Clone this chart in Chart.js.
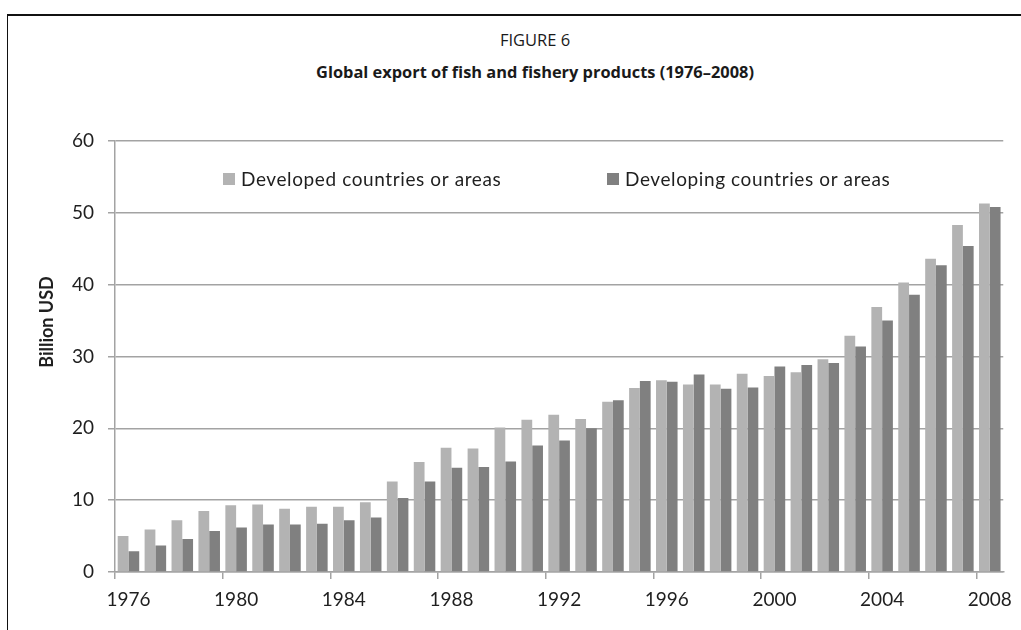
<!DOCTYPE html>
<html>
<head>
<meta charset="utf-8">
<title>Global export of fish and fishery products</title>
<script src="https://cdn.jsdelivr.net/npm/chart.js@4/dist/chart.umd.min.js"></script>
<style>
    html, body { margin: 0; padding: 0; background: #fff; }
    #wrap { position: relative; width: 1021px; height: 630px; overflow: hidden; }
    #frame {
        position: absolute; left: 7px; top: 14px; right: -10px; bottom: -10px;
        border-top: 2px solid #111; border-left: 1.5px solid #111;
    }
    .head {
        position: absolute; left: 235px; width: 600px; text-align: center;
        color: #1a1a1a; font-family: "Open Sans", sans-serif; white-space: nowrap;
    }
    #fig { top: 28px; font-size: 16.5px; }
    #ttl { top: 60px; font-size: 16.4px; font-weight: bold; }
    canvas { position: absolute; left: 0; top: 0; }
</style>
</head>
<body>
<div id="wrap">
    <div id="frame"></div>
    <div class="head" id="fig">FIGURE 6</div>
    <div class="head" id="ttl">Global export of fish and fishery products (1976–2008)</div>
    <canvas id="chart" width="1021" height="630"></canvas>
</div>
<script>
// Export value, billion USD
const years = ['1976', '1977', '1978', '1979', '1980', '1981', '1982', '1983', '1984', '1985',
               '1986', '1987', '1988', '1989', '1990', '1991', '1992', '1993', '1994', '1995',
               '1996', '1997', '1998', '1999', '2000', '2001', '2002', '2003', '2004', '2005',
               '2006', '2007', '2008'];
const developed = [5.0, 5.9, 7.2, 8.5, 9.3, 9.4, 8.8, 9.1, 9.1, 9.7,
                   12.6, 15.3, 17.3, 17.2, 20.1, 21.2, 21.9, 21.3, 23.7, 25.6,
                   26.7, 26.1, 26.1, 27.6, 27.3, 27.8, 29.6, 32.9, 36.9, 40.3,
                   43.6, 48.3, 51.3];
const developing = [2.9, 3.7, 4.6, 5.7, 6.2, 6.6, 6.6, 6.7, 7.2, 7.6,
                    10.3, 12.6, 14.5, 14.6, 15.4, 17.6, 18.3, 20.0, 23.9, 26.6,
                    26.5, 27.5, 25.5, 25.7, 28.6, 28.8, 29.1, 31.4, 35.0, 38.6,
                    42.7, 45.4, 50.8];
const seriesNames = ['Developed countries or areas', 'Developing countries or areas'];
const yTicks = [0, 10, 20, 30, 40, 50, 60];
const labelEvery = 4;

const axisGray = '#a3a3a3';
const textColor = '#1f1f1f';
const tickFont = { family: 'Lato', size: 19 };

// legend sitting inside the plot, plus the rotated y axis caption
const overlay = {
    id: 'overlay',
    afterDraw(chart) {
        const ctx = chart.ctx;
        ctx.save();
        ctx.font = '19px Lato';
        ctx.letterSpacing = '0.6px';
        ctx.textBaseline = 'middle';
        const legendX = [223, 607];
        chart.data.datasets.forEach((ds, i) => {
            ctx.fillStyle = ds.backgroundColor;
            ctx.fillRect(legendX[i], 173, 12, 12);
            ctx.fillStyle = textColor;
            ctx.fillText(ds.label, legendX[i] + 18, 180);
        });
        ctx.letterSpacing = '0px';
        ctx.translate(47, 322);
        ctx.rotate(-Math.PI / 2);
        ctx.font = 'bold 18px Lato';
        ctx.textAlign = 'center';
        ctx.fillText('Billion USD', 0, 0);
        ctx.restore();
    }
};

new Chart(document.getElementById('chart'), {
    type: 'bar',
    data: {
        labels: years,
        datasets: [
            { label: seriesNames[0], data: developed, backgroundColor: '#b3b3b3' },
            { label: seriesNames[1], data: developing, backgroundColor: '#808080' }
        ]
    },
    options: {
        responsive: false,
        animation: false,
        layout: { padding: { top: 141, right: 11, left: 0, bottom: 0 } },
        datasets: { bar: { categoryPercentage: 0.8, barPercentage: 1.0 } },
        plugins: {
            legend: { display: false },
            title: { display: false },
            tooltip: { enabled: false }
        },
        scales: {
            x: {
                afterFit: scale => { scale.height = 58; },
                grid: {
                    offset: true,
                    drawOnChartArea: false,
                    tickLength: 7,
                    lineWidth: 1.5,
                    tickColor: c => (c.index % labelEvery === 0 ? axisGray : 'rgba(0,0,0,0)')
                },
                border: { color: axisGray, width: 1.5 },
                ticks: {
                    autoSkip: false,
                    maxRotation: 0,
                    padding: 9,
                    color: textColor,
                    font: tickFont,
                    callback: (v, i) => (i % labelEvery === 0 ? years[i] : '')
                }
            },
            y: {
                min: yTicks[0],
                max: yTicks[yTicks.length - 1],
                afterFit: scale => { scale.width = 115; },
                afterBuildTicks: scale => { scale.ticks = yTicks.map(v => ({ value: v })); },
                grid: { color: axisGray, lineWidth: 1.5, tickLength: 7 },
                border: { color: axisGray, width: 1.5 },
                ticks: { padding: 14, color: textColor, font: tickFont }
            }
        }
    },
    plugins: [overlay]
});
</script>
</body>
</html>
